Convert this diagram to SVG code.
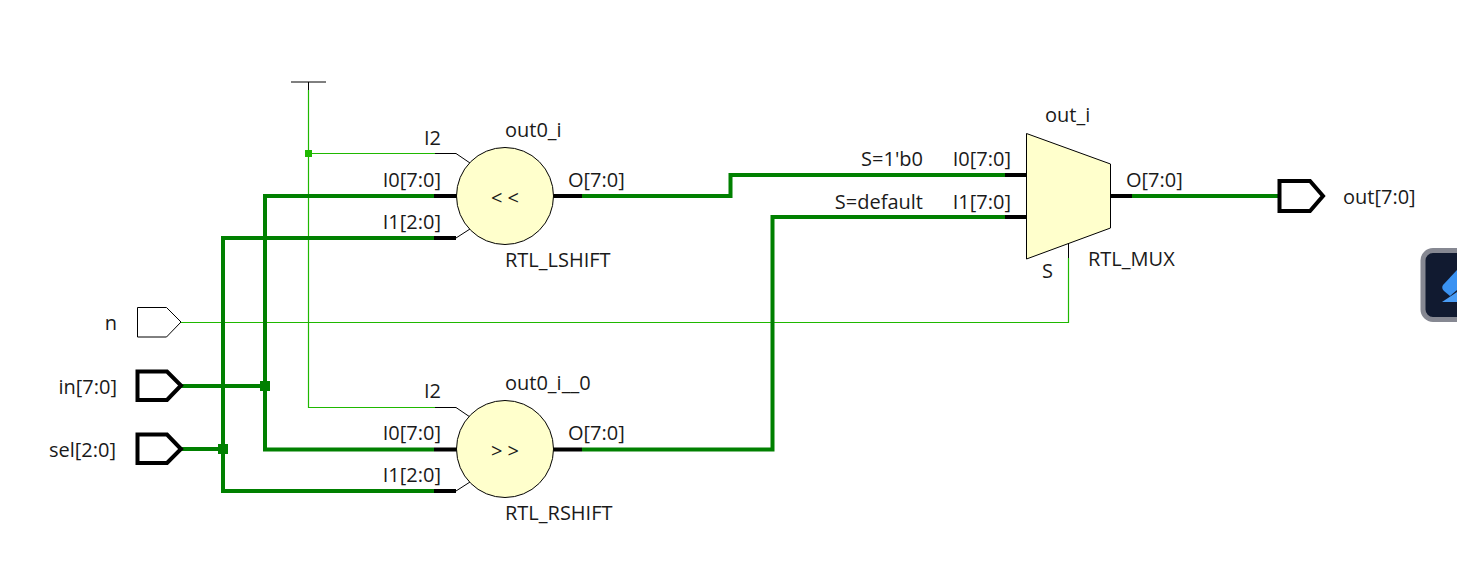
<svg xmlns="http://www.w3.org/2000/svg" width="1457" height="575" viewBox="0 0 1457 575">
<style>
text{font-family:"Open Sans","Noto Sans","Liberation Sans",sans-serif;font-size:20px;fill:#1a1a1a}
.e{text-anchor:end}.m{text-anchor:middle}
.bus{fill:none;stroke:#008000;stroke-width:4}
.thin{fill:none;stroke:#1fb800;stroke-width:1.2}
.pb{fill:none;stroke:#000;stroke-width:4}
.p{fill:none;stroke:#000;stroke-width:1}
.body{fill:#ffffcc;stroke:#000;stroke-width:1}
.port{fill:#fff;stroke:#000;stroke-width:1}
.portb{fill:#fff;stroke:#000;stroke-width:4}
.j{fill:#008000}
</style>
<rect width="1457" height="575" fill="#fff"/>
<g id="connectors">
<path class="thin" d="M308.500 90V407.500H435"/>
<path class="thin" d="M308.500 153.500H435"/>
<path class="thin" d="M181 322.500H1068.500V258"/>
<path class="bus" d="M181 386H265"/>
<path class="bus" d="M434 196H265V449.500H434"/>
<path class="bus" d="M181 449H223"/>
<path class="bus" d="M434 238H223V491H434"/>
<path class="bus" d="M582 196H730.500V175H1005"/>
<path class="bus" d="M582 449.500H772.500V217H1005"/>
<path class="bus" d="M1132 196H1279"/>
<rect class="j" x="260" y="381" width="10" height="10"/>
<rect class="j" x="218" y="444" width="10" height="10"/>
<rect x="305" y="150" width="7" height="7" fill="#1fb800"/>
</g>
<g id="tie"><path class="p" d="M291 82H326M308.500 82V90"/></g>
<g id="port_n"><path class="port" d="M137.500 307.500H166.500L181 322L166.500 337H137.500Z"/><text class="e" x="117" y="330">n</text></g>
<g id="port_in"><path class="portb" d="M137.500 371.500H167L181 385.500L167 400H137.500Z"/><text class="e" x="117" y="394">in[7:0]</text></g>
<g id="port_sel"><path class="portb" d="M137.500 434.500H167L181 449L167 463H137.500Z"/><text class="e" x="116" y="457">sel[2:0]</text></g>
<g id="out0_i">
<path class="p" d="M435 153.500H456L470 163M456 238L470 229"/>
<path class="pb" d="M434 196H457M434 238H456M553 196H582"/>
<circle class="body" cx="505" cy="196" r="48.500"/>
<text class="m" x="505" y="205">&lt; &lt;</text>
<text x="505" y="137">out0_i</text>
<text class="e" x="441" y="145">I2</text>
<text class="e" x="441" y="187">I0[7:0]</text>
<text class="e" x="441" y="229">I1[2:0]</text>
<text x="568" y="187">O[7:0]</text>
<text x="505" y="267">RTL_LSHIFT</text>
</g>
<g id="out0_i__0">
<path class="p" d="M435 407.500H456L470 417M456 491L470 482"/>
<path class="pb" d="M434 449.500H457M434 491H456M553 449.500H582"/>
<circle class="body" cx="505" cy="449" r="48.500"/>
<text class="m" x="505" y="458">&gt; &gt;</text>
<text x="505" y="390">out0_i__0</text>
<text class="e" x="441" y="398">I2</text>
<text class="e" x="441" y="440">I0[7:0]</text>
<text class="e" x="441" y="482">I1[2:0]</text>
<text x="568" y="440">O[7:0]</text>
<text x="505" y="520">RTL_RSHIFT</text>
</g>
<g id="out_i">
<path class="pb" d="M1005 175H1027M1005 217H1027M1110 196H1132"/>
<path class="body" d="M1026.500 133.500L1110.500 164V228L1026.500 259Z"/>
<path class="p" d="M1068.500 243V258"/>
<text x="1045" y="122">out_i</text>
<text class="e" x="923" y="166">S=1'b0</text>
<text class="e" x="923" y="209">S=default</text>
<text class="e" x="1011" y="166">I0[7:0]</text>
<text class="e" x="1011" y="209">I1[7:0]</text>
<text x="1126" y="187">O[7:0]</text>
<text x="1042" y="278">S</text>
<text x="1088" y="266">RTL_MUX</text>
</g>
<g id="port_out"><path class="portb" d="M1279.500 181H1310L1323 196L1310 211H1279.500Z"/><text x="1343" y="204">out[7:0]</text></g>
<g id="icon">
<rect x="1423" y="250.500" width="50" height="69" rx="10" fill="#111a30" stroke="#868892" stroke-width="5"/>
<path d="M1457 270L1443 285Q1441 288 1444 291L1450 296L1457 290Z" fill="#3a92f2"/>
<path d="M1457 292L1442 302H1457Z" fill="#4a9cf5"/>
</g>
</svg>
